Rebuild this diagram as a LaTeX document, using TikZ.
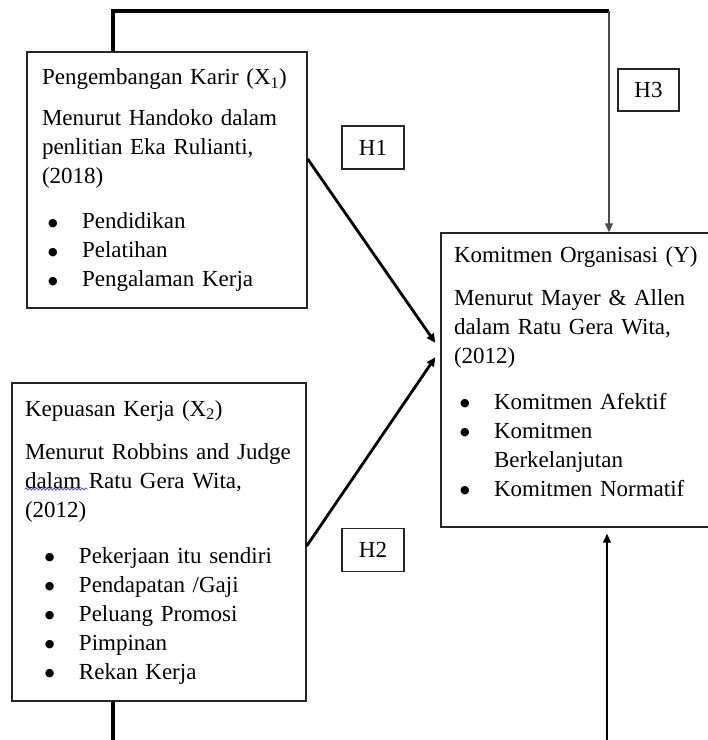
\documentclass[tikz,border=0pt]{standalone}
\usepackage{fontspec}
\setmainfont{Liberation Serif}
\newfontfamily\simbol{DejaVu Sans}
\usetikzlibrary{arrows.meta,decorations.pathmorphing}

\newcommand{\butir}[2][6pt]{\hspace*{#1}\makebox[34pt][l]{\raisebox{2.5pt}{\simbol\fontsize{11}{11}\selectfont ●}}#2}

\begin{document}
\begin{tikzpicture}[x=1pt, y=-1pt, >={Triangle[length=9pt,width=8pt]},
	kotak/.style={draw=black!85, line width=1.4pt, rectangle, align=left, inner xsep=13pt, inner ysep=0pt, font=\fontsize{23}{29}\selectfont},
	hipo/.style={draw=black!85, line width=1.4pt, rectangle, minimum width=62, minimum height=43, inner sep=0pt, font=\fontsize{23}{29}\selectfont},
	tebal/.style={line width=3.2pt},
	panah/.style={->, line width=2.8pt, shorten >=8.7pt},
	tipis/.style={->, line width=1.2pt}]

	\useasboundingbox (0,0) rectangle (708,740);

	\node[kotak, inner xsep=15pt, text width=250pt, minimum width=280, minimum height=256] (X1) at (167,180) {Pengembangan Karir (X\textsubscript{1})\\[12pt]
		Menurut Handoko dalam\\
		penlitian Eka Rulianti,\\
		(2018)\\[16pt]
		\butir{Pendidikan}\\
		\butir{Pelatihan}\\
		\butir{Pengalaman Kerja}};
	\node[kotak, text width=268pt, minimum width=294, minimum height=318] (X2) at (159,542) {Kepuasan Kerja (X\textsubscript{2})\\[14pt]
		Menurut Robbins and Judge\\
		dalam Ratu Gera Wita,\\
		(2012)\\[17pt]
		\butir[20pt]{Pekerjaan itu sendiri}\\
		\butir[20pt]{Pendapatan /Gaji}\\
		\butir[20pt]{Peluang Promosi}\\
		\butir[20pt]{Pimpinan}\\
		\butir[20pt]{Rekan Kerja}};
	\node[kotak, text width=249pt, minimum width=275, minimum height=294] (Y) at (578.5,380) {Komitmen Organisasi (Y)\\[14pt]
		Menurut Mayer \& Allen\\
		dalam Ratu Gera Wita,\\
		(2012)\\[17pt]
		\butir{Komitmen Afektif}\\
		\butir{Komitmen}\\
		\hspace*{40pt}Berkelanjutan\\
		\butir{Komitmen Normatif}\\[-12pt]\mbox{}};

	\node[hipo] (H1) at (373,147.5) {H1};
	\node[hipo] (H2) at (373,550) {H2};
	\node[hipo, minimum width=61, minimum height=42] (H3) at (648.5,90) {H3};

	\coordinate (kiriatas) at (113,11);
	\coordinate (kananatas) at (609,11);
	\coordinate (kiribawah) at (113,742);
	\coordinate (kananbawah) at (607,742);

	% garis atas ke H3
	\draw[tebal] (X1.north -| kiriatas) -- (kiriatas) -- (kananatas);
	\draw[tipis, draw=black!70] (kananatas) -- (kananatas |- Y.north);

	% garis bawah
	\draw[tebal] (X2.south -| kiribawah) -- (kiribawah);
	\draw[tipis, line width=1.4pt, shorten >=6pt] (kananbawah) -- (kananbawah |- Y.south);

	% H1 dan H2
	\draw[panah] ([yshift=21pt]X1.east) -- ([yshift=30pt]Y.west);
	\draw[panah] ([yshift=-4pt]X2.east) -- ([yshift=30pt]Y.west);

	\draw[draw=blue!70, line width=0.8pt, decorate, decoration={snake, amplitude=1pt, segment length=3.5pt}] (25,489) -- (88,489);
\end{tikzpicture}
\end{document}
